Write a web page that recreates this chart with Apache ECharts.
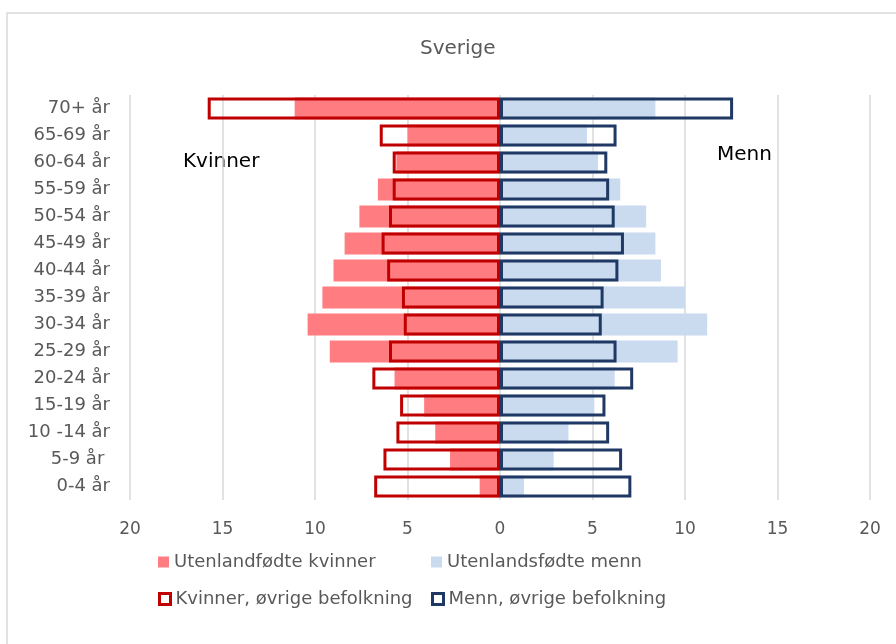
<!DOCTYPE html>
<html>
<head>
<meta charset="utf-8">
<title>Sverige</title>
<script src="https://cdn.jsdelivr.net/npm/echarts@6/dist/echarts.min.js"></script>
<style>
  html, body { margin: 0; padding: 0; background: #fff; }
  #chart { width: 896px; height: 644px; }
</style>
</head>
<body>
<div id="chart"></div>
<script>
// age groups, bottom to top
const ageGroups = ['0-4 år', '5-9 år ', '10 -14 år', '15-19 år', '20-24 år', '25-29 år', '30-34 år',
    '35-39 år', '40-44 år', '45-49 år', '50-54 år', '55-59 år', '60-64 år', '65-69 år', '70+ år']

// percent of population
const womenForeign = [1.1, 2.7, 3.5, 4.1, 5.7, 9.2, 10.4, 9.6, 9.0, 8.4, 7.6, 6.6, 5.6, 5.0, 11.1]
const womenOther = [6.8, 6.3, 5.6, 5.4, 6.9, 6.0, 5.2, 5.3, 6.1, 6.4, 6.0, 5.8, 5.8, 6.5, 15.8]
const menForeign = [1.3, 2.9, 3.7, 5.1, 6.2, 9.6, 11.2, 10.0, 8.7, 8.4, 7.9, 6.5, 5.3, 4.7, 8.4]
const menOther = [7.1, 6.6, 5.9, 5.7, 7.2, 6.3, 5.5, 5.6, 6.4, 6.7, 6.2, 5.9, 5.8, 6.3, 12.6]

const names = ['Utenlandfødte kvinner', 'Utenlandsfødte menn', 'Kvinner, øvrige befolkning', 'Menn, øvrige befolkning']

const PINK = '#ff7c80'
const LIGHT_BLUE = '#cadbf0'
const RED = '#c00000'
const NAVY = '#1f3864'
const GREY_TEXT = '#595959'
const FONT = 'DejaVu Sans'

const chart = echarts.init(document.getElementById('chart'), null, { renderer: 'canvas' })

const neg = arr => arr.map(v => -v)

const legendText = { color: GREY_TEXT, fontSize: 18, fontFamily: FONT, lineHeight: 20 }
const legendAt = (name, left, top, style) => ({
    left, top,
    padding: 0,
    itemWidth: 11,
    itemHeight: 11,
    icon: 'rect',
    textStyle: legendText,
    data: [{ name, itemStyle: style }],
})

chart.setOption({
    animation: false,
    backgroundColor: '#fff',
    textStyle: { fontFamily: FONT },
    title: {
        text: 'Sverige',
        left: 420,
        top: 39,
        padding: 0,
        textStyle: { color: GREY_TEXT, fontSize: 20, fontWeight: 'normal', fontFamily: FONT },
    },
    legend: [
        legendAt(names[0], 158, 552, { color: PINK, borderWidth: 0 }),
        legendAt(names[1], 431, 552, { color: LIGHT_BLUE, borderWidth: 0 }),
        legendAt(names[2], 158, 589, { color: '#fff', borderColor: RED, borderWidth: 3 }),
        legendAt(names[3], 431, 589, { color: '#fff', borderColor: NAVY, borderWidth: 3 }),
    ],
    grid: { left: 130, right: 26, top: 95, bottom: 144 },
    xAxis: {
        type: 'value',
        min: -20,
        max: 20,
        interval: 5,
        axisLine: { show: false },
        axisTick: { show: false },
        axisLabel: {
            color: GREY_TEXT, fontSize: 17, fontFamily: FONT, margin: 21,
            formatter: v => String(Math.abs(v)),
        },
        splitLine: { show: true, lineStyle: { color: '#d9d9d9', width: 1.5 } },
    },
    yAxis: {
        type: 'category',
        data: ageGroups,
        axisLine: { show: false },
        axisTick: { show: false },
        splitLine: { show: false },
        axisLabel: { color: GREY_TEXT, fontSize: 18, fontFamily: FONT, margin: 20 },
    },
    graphic: [
        {
            type: 'rect', silent: true, z: -1,
            shape: { x: 7, y: 13, width: 1000, height: 700 },
            style: { fill: 'none', stroke: '#d9d9d9', lineWidth: 1.5 },
        },
        {
            type: 'text', left: 183, top: 152,
            style: { text: 'Kvinner', fill: '#000', fontSize: 20, fontFamily: FONT },
        },
        {
            type: 'text', left: 717, top: 145,
            style: { text: 'Menn', fill: '#000', fontSize: 20, fontFamily: FONT },
        },
    ],
    series: [
        {
            name: names[0], type: 'bar', data: neg(womenForeign),
            barWidth: 22, barGap: '-100%',
            itemStyle: { color: PINK },
        },
        {
            name: names[1], type: 'bar', data: menForeign,
            barWidth: 22, barGap: '-100%',
            itemStyle: { color: LIGHT_BLUE },
        },
        {
            name: names[2], type: 'bar', data: neg(womenOther),
            barWidth: 22, barGap: '-100%',
            itemStyle: { color: 'rgba(0,0,0,0)', borderColor: RED, borderWidth: 3 },
        },
        {
            name: names[3], type: 'bar', data: menOther,
            barWidth: 22, barGap: '-100%',
            itemStyle: { color: 'rgba(0,0,0,0)', borderColor: NAVY, borderWidth: 3 },
        },
    ],
})
</script>
</body>
</html>
